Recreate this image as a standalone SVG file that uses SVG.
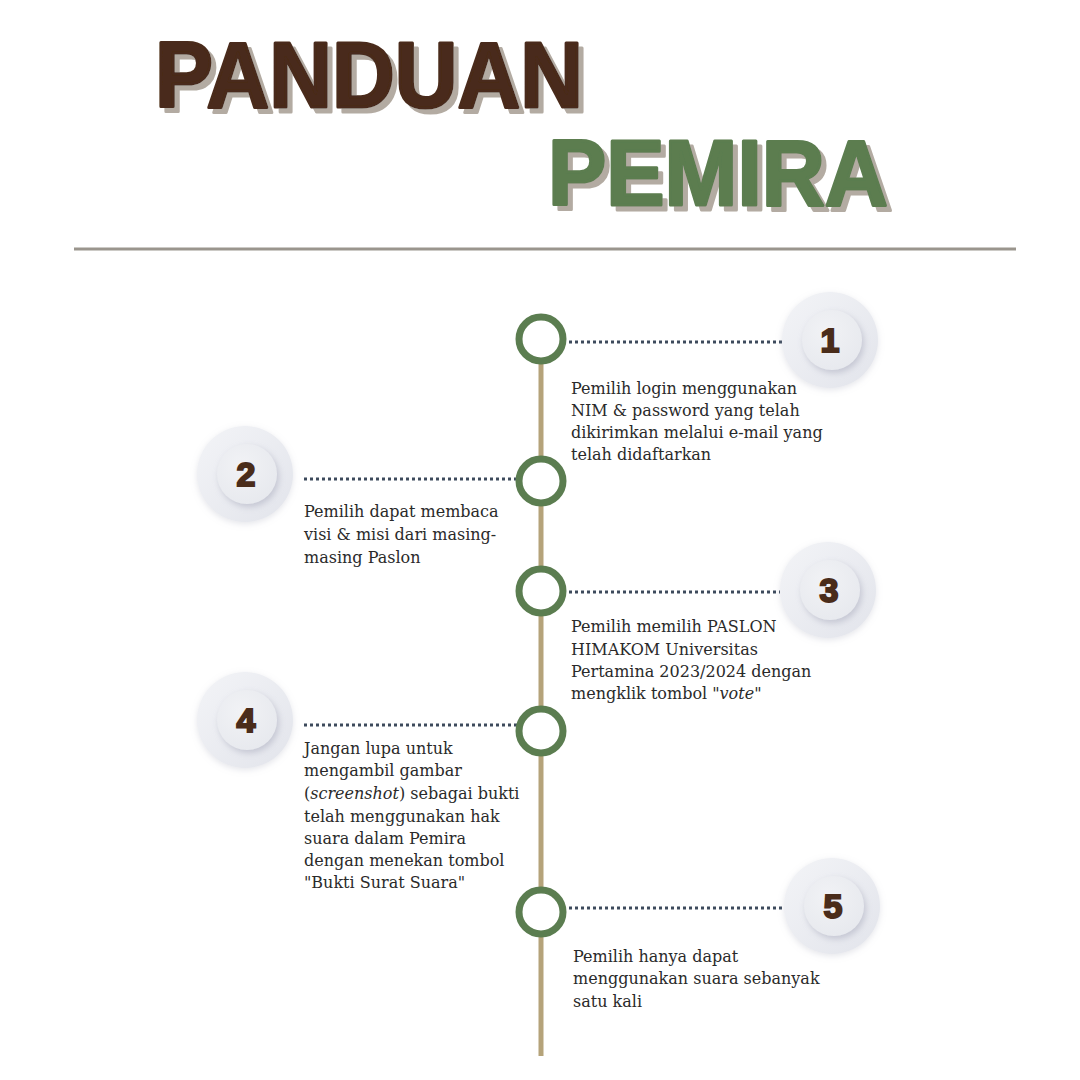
<svg xmlns="http://www.w3.org/2000/svg" width="1080" height="1080" viewBox="0 0 1080 1080">
<defs>
<style>
.title{font-family:"Liberation Sans","DejaVu Sans",sans-serif;font-weight:900;font-size:92px;stroke-width:3;stroke-linejoin:round}
.desc{font-family:"DejaVu Serif","Liberation Serif",serif;font-size:16px;fill:#2a2a2a}
.num{font-family:"Liberation Sans","DejaVu Sans",sans-serif;font-weight:900;font-size:34px;fill:#4a2c1a;stroke:#4a2c1a;stroke-width:2;text-anchor:middle}
.node{fill:#fff;stroke:#5b7d50;stroke-width:7}
.dots{stroke:#3d4a5c;stroke-width:3;stroke-dasharray:3 3;fill:none}
</style>
<filter id="tsh" x="-10%" y="-20%" width="120%" height="150%">
<feOffset in="SourceAlpha" dx="5" dy="5" result="o"/>
<feFlood flood-color="#b3aba2"/>
<feComposite in2="o" operator="in" result="s"/>
<feMerge><feMergeNode in="s"/><feMergeNode in="SourceGraphic"/></feMerge>
</filter>
<linearGradient id="outer" x1="0" y1="0" x2="1" y2="1">
<stop offset="0" stop-color="#f3f4f7"/>
<stop offset="1" stop-color="#e2e4eb"/>
</linearGradient>
<radialGradient id="inner" cx="0.4" cy="0.35" r="0.7">
<stop offset="0" stop-color="#f1f2f5"/>
<stop offset="1" stop-color="#e7e9ee"/>
</radialGradient>
<filter id="sh" x="-30%" y="-30%" width="160%" height="160%">
<feDropShadow dx="2" dy="3" stdDeviation="3" flood-color="#9a9cb0" flood-opacity="0.45"/>
</filter>
<filter id="sh2" x="-30%" y="-30%" width="160%" height="160%">
<feDropShadow dx="0" dy="2" stdDeviation="3" flood-color="#a8aabb" flood-opacity="0.3"/>
</filter>
</defs>
<rect width="1080" height="1080" fill="#fff"/>
<g id="title" filter="url(#tsh)">
<text class="title" x="155" y="107" fill="#4a2c1a" stroke="#4a2c1a" textLength="428" lengthAdjust="spacingAndGlyphs">PANDUAN</text>
<text class="title" x="548" y="205" fill="#5b7d50" stroke="#5b7d50" textLength="340" lengthAdjust="spacingAndGlyphs">PEMIRA</text>
</g>
<line x1="74" y1="249" x2="1016" y2="249" stroke="#9a958d" stroke-width="3"/>
<g id="connectors">
<line x1="541" y1="340" x2="541" y2="1056" stroke="#b5a37a" stroke-width="5"/>
<line class="dots" x1="569" y1="342" x2="782" y2="342"/>
<line class="dots" x1="304" y1="479" x2="518" y2="479"/>
<line class="dots" x1="569" y1="592" x2="780" y2="592"/>
<line class="dots" x1="304" y1="725" x2="518" y2="725"/>
<line class="dots" x1="569" y1="908" x2="786" y2="908"/>
</g>
<g id="node1">
<circle class="node" cx="541" cy="339" r="22"/>
<circle cx="830" cy="340" r="48" fill="url(#outer)" filter="url(#sh2)"/>
<circle cx="832" cy="340" r="30" fill="url(#inner)" filter="url(#sh)"/>
<text class="num" x="830" y="352">1</text>
<text class="desc"><tspan x="571" y="394">Pemilih login menggunakan</tspan><tspan x="571" y="416">NIM &amp; password yang telah</tspan><tspan x="571" y="438">dikirimkan melalui e-mail yang</tspan><tspan x="571" y="460">telah didaftarkan</tspan></text>
</g>
<g id="node2">
<circle class="node" cx="541" cy="481" r="22"/>
<circle cx="245" cy="474" r="48" fill="url(#outer)" filter="url(#sh2)"/>
<circle cx="247" cy="474" r="30" fill="url(#inner)" filter="url(#sh)"/>
<text class="num" x="246" y="486">2</text>
<text class="desc"><tspan x="304" y="517">Pemilih dapat membaca</tspan><tspan x="304" y="540">visi &amp; misi dari masing-</tspan><tspan x="304" y="563">masing Paslon</tspan></text>
</g>
<g id="node3">
<circle class="node" cx="541" cy="591" r="22"/>
<circle cx="828" cy="590" r="48" fill="url(#outer)" filter="url(#sh2)"/>
<circle cx="830" cy="590" r="30" fill="url(#inner)" filter="url(#sh)"/>
<text class="num" x="829" y="602">3</text>
<text class="desc"><tspan x="571" y="632">Pemilih memilih PASLON</tspan><tspan x="571" y="655">HIMAKOM Universitas</tspan><tspan x="571" y="677">Pertamina 2023/2024 dengan</tspan><tspan x="571" y="699">mengklik tombol "<tspan font-style="italic">vote</tspan>"</tspan></text>
</g>
<g id="node4">
<circle class="node" cx="541" cy="731" r="22"/>
<circle cx="245" cy="720" r="48" fill="url(#outer)" filter="url(#sh2)"/>
<circle cx="247" cy="720" r="30" fill="url(#inner)" filter="url(#sh)"/>
<text class="num" x="246" y="732">4</text>
<text class="desc"><tspan x="304" y="754">Jangan lupa untuk</tspan><tspan x="304" y="776">mengambil gambar</tspan><tspan x="304" y="799">(<tspan font-style="italic">screenshot</tspan>) sebagai bukti</tspan><tspan x="304" y="822">telah menggunakan hak</tspan><tspan x="304" y="844">suara dalam Pemira</tspan><tspan x="304" y="866">dengan menekan tombol</tspan><tspan x="304" y="888">"Bukti Surat Suara"</tspan></text>
</g>
<g id="node5">
<circle class="node" cx="541" cy="912" r="22"/>
<circle cx="832" cy="906" r="48" fill="url(#outer)" filter="url(#sh2)"/>
<circle cx="834" cy="906" r="30" fill="url(#inner)" filter="url(#sh)"/>
<text class="num" x="833" y="918">5</text>
<text class="desc"><tspan x="573" y="962">Pemilih hanya dapat</tspan><tspan x="573" y="984">menggunakan suara sebanyak</tspan><tspan x="573" y="1007">satu kali</tspan></text>
</g>
</svg>
